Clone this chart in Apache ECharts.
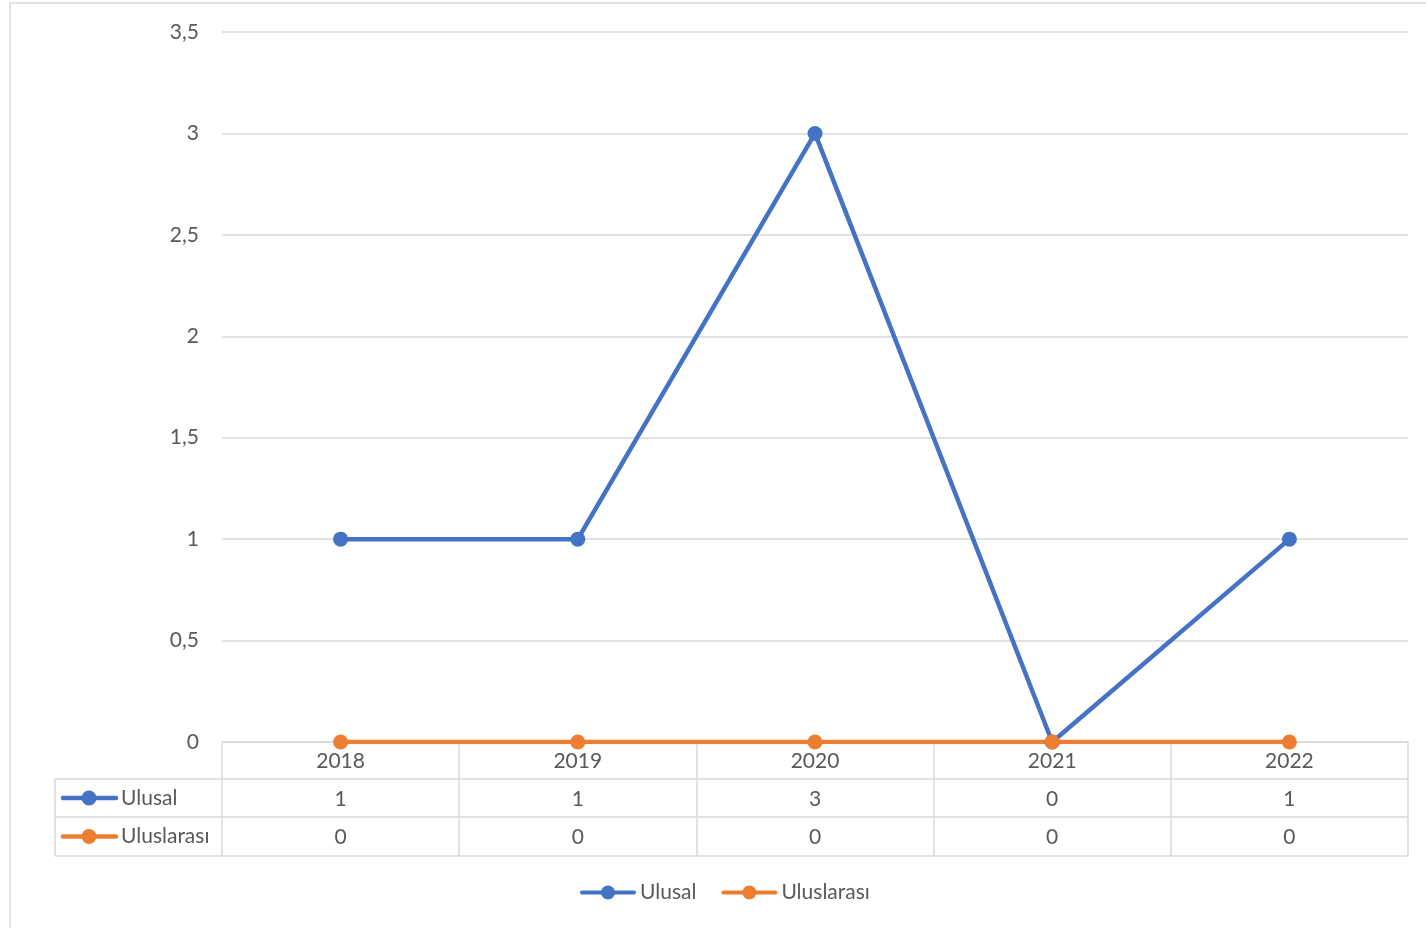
<!DOCTYPE html>
<html><head><meta charset="utf-8">
<script src="https://cdn.jsdelivr.net/npm/echarts@6/dist/echarts.min.js"></script>
<style>html,body{margin:0;padding:0;background:#fff}#c{width:1426px;height:928px}</style>
</head><body><div id="c"></div>
<script>
const years = ['2018', '2019', '2020', '2021', '2022'];
const ulusal = [1, 1, 3, 0, 1];
const uluslararasi = [0, 0, 0, 0, 0];
const seriesNames = ['Ulusal', 'Uluslarası'];
const colors = ['#4472C4', '#ED7D31'];
const yMax = 3.5, yStep = 0.5;

const FONT = 'Lato';
const FS = 21;
const TXT = '#595959';
const GRID = { left: 222, right: 18, top: 32, bottom: 186 };
const W = 1426, H = 928;
const gBottom = H - GRID.bottom;           // 742
const gRight = W - GRID.right;             // 1408
const rowH = 38;
const tableLines = [gBottom + 37, gBottom + 75, gBottom + 114];
const tableLeft = 55;
const keyIcon = 'path://M2,5 h52 a2,2 0 0 1 0,4 h-52 a2,2 0 0 1 0,-4 Z M21,7 a7,7 0 1 1 14,0 a7,7 0 1 1 -14,0 Z';

const chart = echarts.init(document.getElementById('c'), null, { renderer: 'canvas' });

const graphics = [
  { type: 'rect', z: -10, shape: { x: 10, y: 3, width: 1500, height: 1000 },
    style: { fill: 'none', stroke: '#d9d9d9', lineWidth: 1.5 } }
];
tableLines.forEach(y => graphics.push({
  type: 'line', shape: { x1: tableLeft, y1: y, x2: gRight, y2: y },
  style: { stroke: '#d9d9d9', lineWidth: 1.5 }
}));
graphics.push({ type: 'line', shape: { x1: tableLeft, y1: tableLines[0], x2: tableLeft, y2: tableLines[2] },
  style: { stroke: '#d9d9d9', lineWidth: 1.5 } });
seriesNames.forEach((n, i) => {
  const cy = (tableLines[i] + tableLines[i + 1]) / 2;
  graphics.push({ type: 'line', shape: { x1: 63, y1: cy, x2: 116, y2: cy },
    style: { stroke: colors[i], lineWidth: 4.5, lineCap: 'round' } });
  graphics.push({ type: 'circle', shape: { cx: 89, cy: cy, r: 7.5 }, style: { fill: colors[i] } });
  graphics.push({ type: 'text', x: 121, y: cy, style: { text: n, fill: TXT, font: FS + 'px ' + FONT, verticalAlign: 'middle', align: 'left' } });
});

const option = {
  animation: false,
  backgroundColor: '#fff',
  grid: GRID,
  textStyle: { fontFamily: FONT },
  legend: {
    data: seriesNames.map(n => ({ name: n, icon: keyIcon })),
    left: 580, top: 882, padding: 0,
    itemWidth: 56, itemHeight: 14, itemGap: 25,
    textStyle: { color: TXT, fontSize: FS, fontFamily: FONT, padding: [0, 0, 0, -1] }
  },
  xAxis: {
    type: 'category', data: years, boundaryGap: true,
    axisLine: { lineStyle: { color: '#d9d9d9', width: 1.5 } },
    axisTick: { show: true, length: 114, lineStyle: { color: '#d9d9d9', width: 1.5 } },
    axisLabel: {
      margin: 0, interval: 0,
      formatter: (v, idx) => [v, ulusal[idx], uluslararasi[idx]].join('\n'),
      color: TXT, fontSize: FS, fontFamily: FONT, lineHeight: rowH
    }
  },
  yAxis: {
    type: 'value', min: 0, max: yMax, interval: yStep,
    axisLine: { show: false }, axisTick: { show: false },
    splitLine: { lineStyle: { color: '#d9d9d9', width: 1.5 } },
    axisLabel: { margin: 23, color: TXT, fontSize: FS, fontFamily: FONT,
      formatter: v => String(v).replace('.', ',') }
  },
  series: [
    { name: seriesNames[0], type: 'line', data: ulusal, color: colors[0],
      symbol: 'circle', symbolSize: 15, lineStyle: { width: 4.5 }, itemStyle: { color: colors[0] } },
    { name: seriesNames[1], type: 'line', data: uluslararasi, color: colors[1],
      symbol: 'circle', symbolSize: 15, lineStyle: { width: 4.5 }, itemStyle: { color: colors[1] } }
  ],
  graphic: graphics
};
chart.setOption(option);
</script></body></html>
